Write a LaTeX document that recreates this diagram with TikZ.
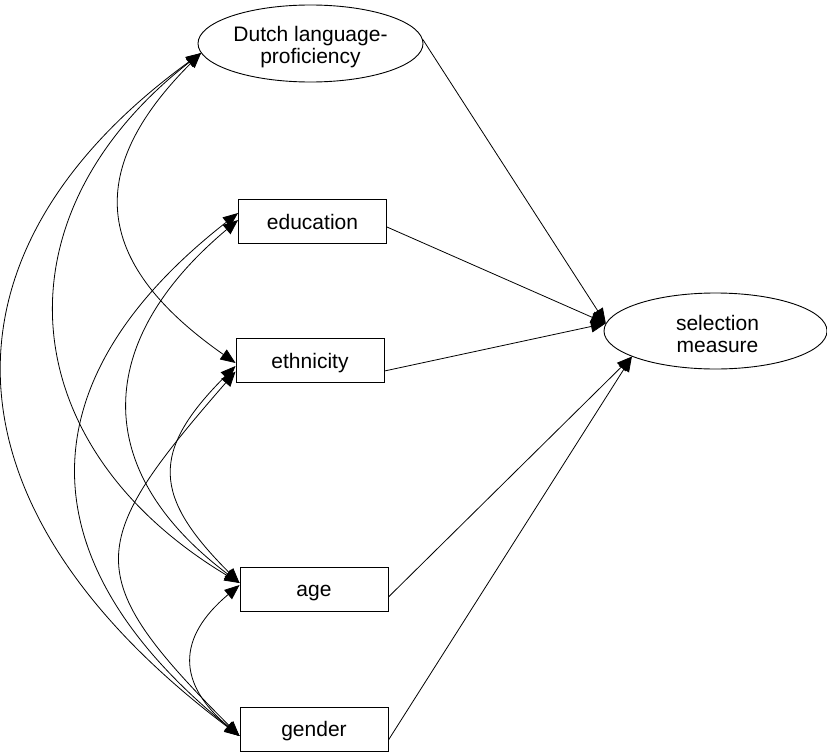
\documentclass[tikz,border=0pt]{standalone}
\usepackage{fontspec}
\setmainfont{Liberation Sans}
\usetikzlibrary{shapes.geometric,arrows.meta}
\begin{document}
\begin{tikzpicture}[x=1pt,y=1pt,
  lbl/.style={font=\fontsize{21}{22}\selectfont},
  var/.style={draw, line width=0.9pt, rectangle, minimum width=148pt, minimum height=44pt, inner sep=0pt, text height=15pt, text depth=0pt, lbl},
  lat/.style={draw, line width=0.9pt, ellipse, inner sep=0pt},
  ltxt/.style={lbl, align=center, inner sep=0pt},
  path/.style={-{Triangle[length=15pt,width=12pt]}, line width=0.8pt},
  cov/.style={{Triangle[length=15pt,width=12pt]}-{Triangle[length=15pt,width=12pt]}, line width=0.8pt},
]
\useasboundingbox (0,0) rectangle (827,-752);

\node[lat, minimum width=225pt, minimum height=77pt] (dutch) at (310.5,-43.5) {};
\node[ltxt] (dutchtxt) at ([yshift=-4pt]dutch.center) {Dutch language-\\proficiency};
\node[var] (edu) at (312.5,-221.5) {education};
\node[var] (eth) at (310,-360.5) {ethnicity};
\node[var] (age) at (314,-589) {age};
\node[var] (gen) at (314,-729) {gender};
\node[lat, minimum width=223pt, minimum height=76pt] (sel) at (715.5,-331) {};
\node[ltxt] (seltxt) at ([xshift=2pt,yshift=-3pt]sel.center) {selection\\measure};

% paths to selection measure
\draw[path] (dutch.2) -- (sel.176);
\draw[path] ([yshift=-5.5pt]edu.east) -- (sel.176);
\draw[path] ([yshift=-10.5pt]eth.east) -- (sel.176);
\draw[path] ([yshift=-8pt]age.east) -- (sel.197);
\draw[path] ([yshift=-11pt]gen.east) -- (sel.197);

% covariances
\draw[cov] (dutch.185) to[out=225,in=145,out distance=170pt,in distance=170pt] ([yshift=-2.5pt]eth.west);
\draw[cov] (dutch.185) to[out=218,in=149,out distance=266pt,in distance=266pt] ([yshift=6pt]age.west);
\draw[cov] (dutch.185) to[out=216,in=143,out distance=330pt,in distance=390pt] ([yshift=-7pt]gen.west);
\draw[cov] ([yshift=1.5pt]edu.west) to[out=220,in=143,out distance=188pt,in distance=188pt] ([yshift=6pt]age.west);
\draw[cov] ([yshift=8.5pt]edu.west) to[out=218,in=141,out distance=275pt,in distance=275pt] ([yshift=-7pt]gen.west);
\draw[cov] ([yshift=-5.5pt]eth.west) to[out=225,in=135,out distance=122pt,in distance=122pt] ([yshift=6pt]age.west);
\draw[cov] ([yshift=-11pt]eth.west) to[out=229,in=135,out distance=228pt,in distance=228pt] ([yshift=-7pt]gen.west);
\draw[cov] ([yshift=4pt]age.west) to[out=220,in=140,out distance=82pt,in distance=82pt] ([yshift=-7pt]gen.west);
\end{tikzpicture}
\end{document}
